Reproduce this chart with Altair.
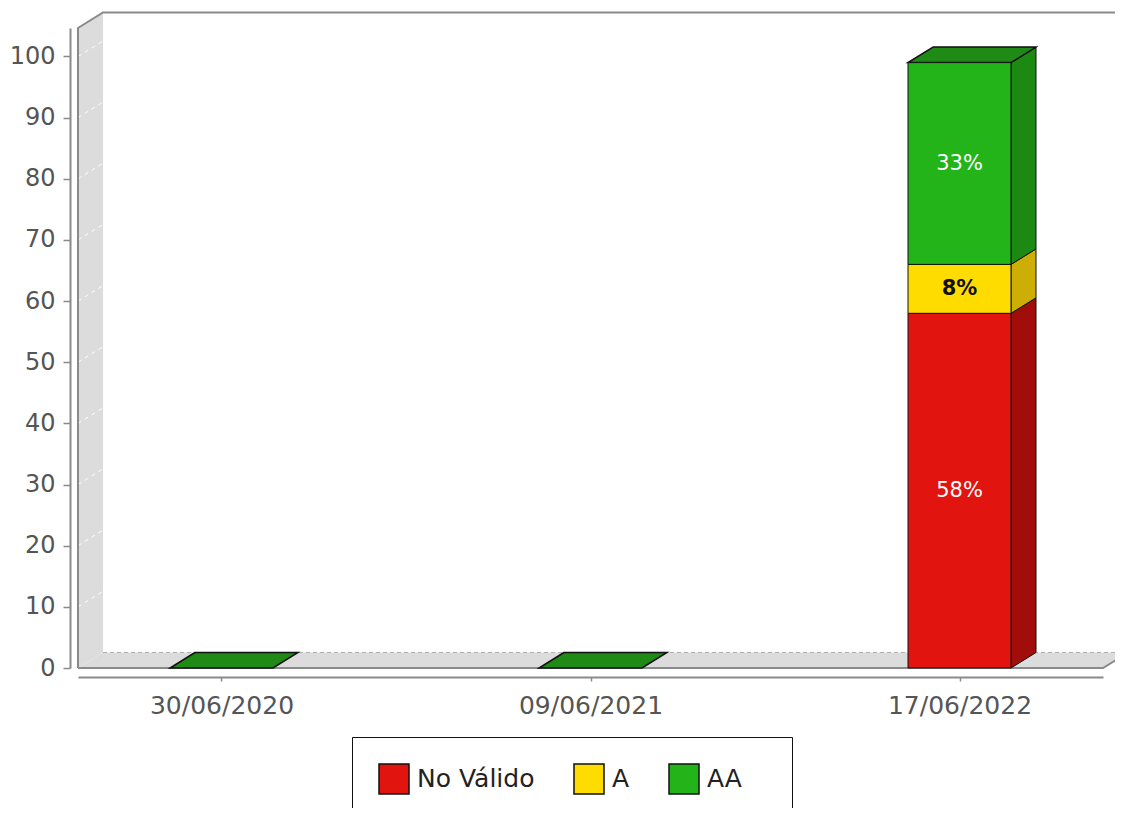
import json
import altair as alt
import pandas as pd

# ---------------- data ----------------
dates = ["30/06/2020", "09/06/2021", "17/06/2022"]
series = ["No Válido", "A", "AA"]
no_valido = [0, 0, 58]
nivel_a = [0, 0, 8]
nivel_aa = [0, 0, 33]
y_ticks = [0, 10, 20, 30, 40, 50, 60, 70, 80, 90, 100]

front_colors = ["#e1140f", "#ffdc00", "#22b418"]
side_colors = ["#a10d0b", "#cdae05", "#1c8913"]
top_colors = ["#b31010", "#e2c400", "#1f8a15"]
label_colors = ["#ffffff", "#111111", "#ffffff"]
label_weights = ["normal", "bold", "normal"]

# ---------------- geometry (style) ----------------
W, H = 1025, 640
STEP_PX = 369.0
X_MIN = 1 - (W / 2) / STEP_PX
X_MAX = 1 + (W / 2) / STEP_PX
Y_MAX = 104.66
DX = 25 / STEP_PX
DY = 15.5 * Y_MAX / H
HW = 51.5 / STEP_PX

values = [no_valido, nivel_a, nivel_aa]

front_rows, side_rows, top_rows, text_rows = [], [], [], []
for i, d in enumerate(dates):
    cum = 0
    top_k = len(series) - 1
    for k, s in enumerate(series):
        v = values[k][i]
        if v > 0:
            front_rows.append(dict(x=i - HW, x2=i + HW, y=cum, y2=cum + v, serie=s))
            seg = f"{i}-{k}"
            side_rows.append(dict(seg=seg, x=i + HW, y=cum, y2=cum + v, c=side_colors[k]))
            side_rows.append(dict(seg=seg, x=i + HW + DX, y=cum + DY, y2=cum + v + DY, c=side_colors[k]))
            text_rows.append(dict(x=i, y=cum + v / 2, t=f"{v}%", c=label_colors[k], w=label_weights[k]))
            top_k = k
        cum += v
    top_rows.append(dict(seg=i, y=cum, x=i - HW, x2=i + HW, c=top_colors[top_k]))
    top_rows.append(dict(seg=i, y=cum + DY, x=i - HW + DX, x2=i + HW + DX, c=top_colors[top_k]))

floor_rows = [dict(y=0, x=X_MIN, x2=X_MAX), dict(y=DY, x=X_MIN + DX, x2=X_MAX + DX)]
wall_rows = [dict(x=X_MIN, y=0, y2=Y_MAX), dict(x=X_MIN + DX, y=DY, y2=Y_MAX + DY)]

edge_rows = [
    dict(g="left", o=0, x=X_MIN, y=0), dict(g="left", o=1, x=X_MIN, y=Y_MAX),
    dict(g="left", o=2, x=X_MIN + DX, y=Y_MAX + DY), dict(g="left", o=3, x=X_MAX + DX + 0.2, y=Y_MAX + DY),
    dict(g="front", o=0, x=X_MIN, y=0), dict(g="front", o=1, x=X_MAX, y=0),
    dict(g="front", o=2, x=X_MAX + DX, y=DY),
]
back_rows = [dict(g="b", o=0, x=X_MIN + DX, y=DY), dict(g="b", o=1, x=X_MAX + DX + 0.2, y=DY)]
dash_rows = []
for t in y_ticks[1:]:
    dash_rows.append(dict(g=str(t), o=0, x=X_MIN, y=t))
    dash_rows.append(dict(g=str(t), o=1, x=X_MIN + DX, y=t + DY))

# ---------------- scales / axes ----------------
FONT = "DejaVu Sans"
xs = alt.Scale(domain=[X_MIN, X_MAX], nice=False, zero=False)
ys = alt.Scale(domain=[0, Y_MAX], nice=False, zero=False)
x_axis = alt.Axis(values=[0, 1, 2], labelExpr=json.dumps(dates) + "[datum.value]",
                  title=None, grid=False, offset=9, domainColor="#8a8a8a", domainWidth=2,
                  tickColor="#8a8a8a", tickSize=4, tickWidth=1.5, labelFont=FONT,
                  labelFontSize=25, labelColor="#555555", labelPadding=12)
y_axis = alt.Axis(values=y_ticks, title=None, grid=False, offset=8, domainColor="#8a8a8a",
                  domainWidth=2, tickColor="#8a8a8a", tickSize=7, tickWidth=1.5,
                  labelFont=FONT, labelFontSize=24, labelColor="#555555", labelPadding=8)


def X(f="x"):
    return alt.X(f"{f}:Q", scale=xs, axis=x_axis)


def Y(f="y"):
    return alt.Y(f"{f}:Q", scale=ys, axis=y_axis)


floor = alt.Chart(pd.DataFrame(floor_rows)).mark_area(orient="horizontal", color="#dcdcdc").encode(
    y=Y(), x=X(), x2="x2:Q")
wall = alt.Chart(pd.DataFrame(wall_rows)).mark_area(orient="vertical", color="#dcdcdc").encode(
    x=X(), y=Y(), y2="y2:Q")
dashes = alt.Chart(pd.DataFrame(dash_rows)).mark_line(color="#ffffff", strokeDash=[4, 4], strokeWidth=1).encode(
    x=X(), y=Y(), detail="g:N", order="o:Q")
back = alt.Chart(pd.DataFrame(back_rows)).mark_line(color="#b0b0b0", strokeDash=[4, 3], strokeWidth=1).encode(
    x=X(), y=Y(), detail="g:N", order="o:Q")
edges = alt.Chart(pd.DataFrame(edge_rows)).mark_line(color="#8a8a8a", strokeWidth=2).encode(
    x=X(), y=Y(), detail="g:N", order="o:Q")

sides = alt.Chart(pd.DataFrame(side_rows)).mark_area(orient="vertical", stroke="#111111", strokeWidth=1).encode(
    x=X(), y=Y(), y2="y2:Q", detail="seg:N", color=alt.Color("c:N", scale=None))
tops = alt.Chart(pd.DataFrame(top_rows)).mark_area(orient="horizontal", stroke="#111111", strokeWidth=1.5).encode(
    y=Y(), x=X(), x2="x2:Q", detail="seg:N", color=alt.Color("c:N", scale=None))

legend = alt.Legend(title="\u00a0", titleOrient="right", titlePadding=24, titleFontSize=20,
                    orient="none", legendX=274, legendY=709, direction="horizontal",
                    symbolType="square", symbolSize=900, symbolStrokeColor="#222222",
                    symbolStrokeWidth=1.5, labelFont=FONT, labelFontSize=25, labelColor="#222222",
                    labelOffset=7, columnPadding=36, padding=26, strokeColor="#111111",
                    fillColor="#ffffff", labelLimit=400)
fronts = alt.Chart(pd.DataFrame(front_rows)).mark_rect(stroke="#111111", strokeWidth=1).encode(
    x=X(), x2="x2:Q", y=Y(), y2="y2:Q",
    color=alt.Color("serie:N", scale=alt.Scale(domain=series, range=front_colors), legend=legend))

text_df = pd.DataFrame(text_rows)
texts_n = alt.Chart(text_df).transform_filter("datum.w == 'normal'").mark_text(
    font=FONT, fontSize=21, align="center", baseline="middle").encode(
    x=X(), y=Y(), text="t:N", color=alt.Color("c:N", scale=None))
texts_b = alt.Chart(text_df).transform_filter("datum.w == 'bold'").mark_text(
    font=FONT, fontSize=21, fontWeight="bold", align="center", baseline="middle").encode(
    x=X(), y=Y(), text="t:N", color=alt.Color("c:N", scale=None))

chart = alt.layer(floor, wall, dashes, back, edges, sides, tops, fronts, texts_n, texts_b).properties(
    width=W, height=H,
    autosize=alt.AutoSizeParams(type="none"),
    padding={"left": 70, "top": 20, "right": 12, "bottom": 140},
    background="#ffffff",
).configure_view(stroke="transparent")

chart.save("out.html", embed_options={"renderer": "svg", "actions": False})
